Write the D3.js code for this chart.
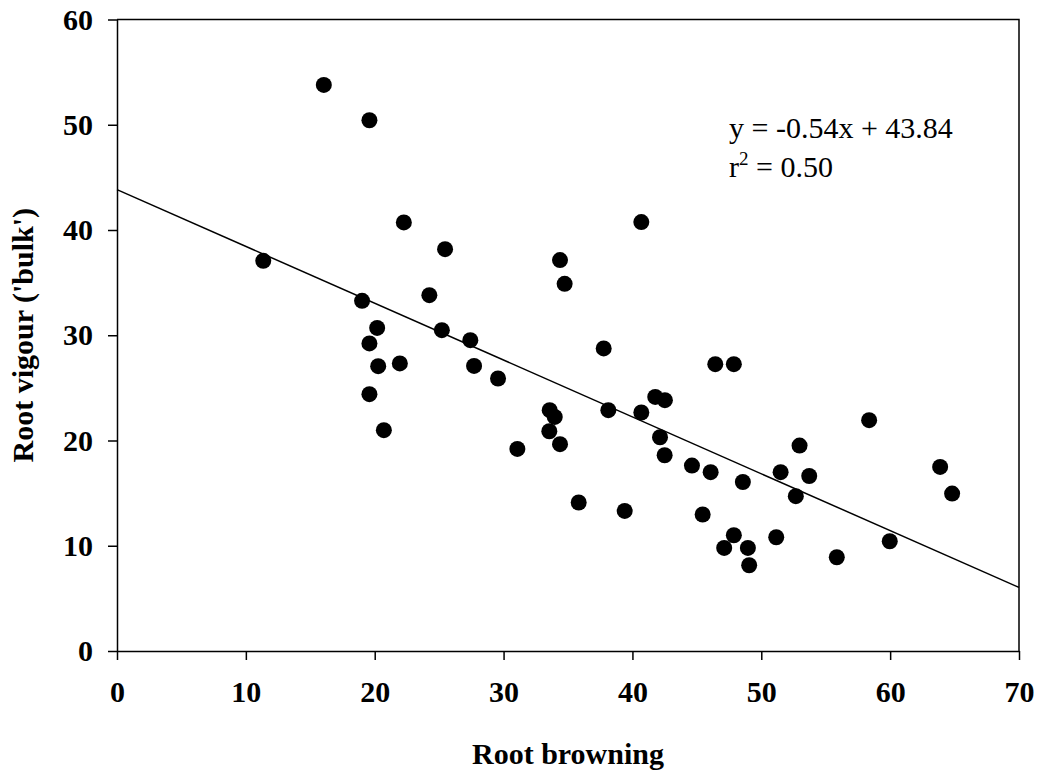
<!DOCTYPE html>
<html>
<head>
<meta charset="utf-8">
<script src="https://cdn.jsdelivr.net/npm/d3@7"></script>
<style>
  body { margin: 0; background: #fff; }
  text { font-family: "Liberation Serif", "Times New Roman", serif; }
</style>
</head>
<body>
<div id="chart"></div>
<script>
// root browning (x) against root vigour (y)
var browning = [16.05, 19.59, 11.35, 19.02, 22.26, 20.19, 19.59, 20.27, 21.95, 19.59,
    20.71, 24.24, 25.46, 25.21, 27.42, 27.71, 29.57, 31.07, 34.38, 34.74,
    33.58, 33.97, 33.55, 34.38, 35.83, 37.77, 38.13, 40.69, 40.69, 41.77,
    42.52, 42.14, 42.50, 39.40, 44.62, 45.45, 46.07, 46.43, 47.87, 48.57,
    47.87, 47.12, 48.96, 49.06, 51.16, 51.50, 52.68, 52.97, 53.72, 55.86,
    58.37, 59.97, 63.88, 64.81];
var vigour = [53.78, 50.43, 37.07, 33.27, 40.72, 30.70, 29.22, 27.06, 27.32, 24.40,
    20.98, 33.81, 38.18, 30.48, 29.53, 27.09, 25.89, 19.20, 37.14, 34.89,
    22.88, 22.24, 20.88, 19.65, 14.11, 28.75, 22.88, 40.75, 22.66, 24.14,
    23.83, 20.31, 18.60, 13.31, 17.62, 12.97, 16.99, 27.25, 27.25, 16.06,
    11.00, 9.79, 9.79, 8.15, 10.81, 16.99, 14.71, 19.52, 16.63, 8.91,
    21.93, 10.43, 17.49, 14.96];
var xTicks = [0, 10, 20, 30, 40, 50, 60, 70];
var yTicks = [0, 10, 20, 30, 40, 50, 60];
var slope = -0.54, intercept = 43.84;

var width = 1041, height = 771;
var margin = {top: 19.5, right: 22, bottom: 120, left: 117};

var svg = d3.select('#chart').append('svg')
    .attr('width', width).attr('height', height);

var x = d3.scaleLinear().domain([0, 70]).range([margin.left, width - margin.right]);
var y = d3.scaleLinear().domain([0, 60]).range([height - margin.bottom, margin.top]);

// frame on top and right
svg.append('path')
    .attr('d', 'M' + x(0) + ',' + y(60) + 'H' + x(70) + 'V' + y(0))
    .attr('fill', 'none').attr('stroke', '#000').attr('stroke-width', 1.5);

var xAxis = svg.append('g')
    .attr('transform', 'translate(0,' + y(0) + ')')
    .call(d3.axisBottom(x).tickValues(xTicks).tickSize(9).tickPadding(21).tickSizeOuter(0));
var yAxis = svg.append('g')
    .attr('transform', 'translate(' + x(0) + ',0)')
    .call(d3.axisLeft(y).tickValues(yTicks).tickSize(9).tickPadding(15).tickSizeOuter(0));

[xAxis, yAxis].forEach(function(a) {
    a.selectAll('path, line').attr('stroke', '#000').attr('stroke-width', 1.5);
    a.selectAll('text')
        .style('font-family', '"Liberation Serif", serif')
        .style('font-size', '30px')
        .style('font-weight', 'bold')
        .attr('fill', '#000');
});

// regression line
svg.append('line')
    .attr('x1', x(0)).attr('y1', y(intercept))
    .attr('x2', x(70)).attr('y2', y(intercept + slope * 70))
    .attr('stroke', '#000').attr('stroke-width', 1.5);

svg.append('g').selectAll('circle')
    .data(d3.range(browning.length))
    .enter().append('circle')
    .attr('cx', function(i) { return x(browning[i]); })
    .attr('cy', function(i) { return y(vigour[i]); })
    .attr('r', 8)
    .attr('fill', '#000');

// equation
var eq = svg.append('text')
    .attr('x', 729).attr('y', 138)
    .style('font-size', '30px')
    .text('y = -0.54x + 43.84');
var r2 = svg.append('text')
    .attr('x', 729).attr('y', 177)
    .style('font-size', '30px');
r2.append('tspan').text('r');
r2.append('tspan').attr('dy', -12).style('font-size', '19px').text('2');
r2.append('tspan').attr('dy', 12).text(' = 0.50');

svg.append('text')
    .attr('x', (x(0) + x(70)) / 2).attr('y', 764)
    .attr('text-anchor', 'middle')
    .style('font-size', '30px').style('font-weight', 'bold')
    .text('Root browning');

svg.append('text')
    .attr('transform', 'translate(33,' + ((y(0) + y(60)) / 2) + ') rotate(-90)')
    .attr('text-anchor', 'middle')
    .style('font-size', '30px').style('font-weight', 'bold')
    .text("Root vigour ('bulk')");
</script>
</body>
</html>
